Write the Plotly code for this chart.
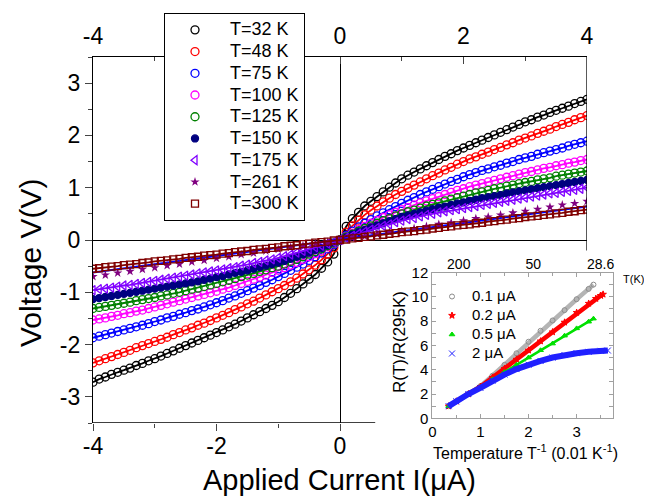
import plotly.graph_objects as go

W, H = 652, 496
# the page body adds an 8 px margin around the figure; layout positions
# below are given in window pixels and corrected for it
OFFSET = 8

# ---- main panel: I-V sweeps, current in uA ----
current_ua = [-4.0, -3.9, -3.8, -3.7, -3.6, -3.5, -3.4, -3.3, -3.2, -3.1,
              -3.0, -2.9, -2.8, -2.7, -2.6, -2.5, -2.4, -2.3, -2.2, -2.1,
              -2.0, -1.9, -1.8, -1.7, -1.6, -1.5, -1.4, -1.3, -1.2, -1.1,
              -1.0, -0.9, -0.8, -0.7, -0.6, -0.5, -0.4, -0.3, -0.2, -0.1,
              0.0, 0.1, 0.2, 0.3, 0.4, 0.5, 0.6, 0.7, 0.8, 0.9,
              1.0, 1.1, 1.2, 1.3, 1.4, 1.5, 1.6, 1.7, 1.8, 1.9,
              2.0, 2.1, 2.2, 2.3, 2.4, 2.5, 2.6, 2.7, 2.8, 2.9,
              3.0, 3.1, 3.2, 3.3, 3.4, 3.5, 3.6, 3.7, 3.8, 3.9, 4.0]

v_32k = [-2.72, -2.66, -2.62, -2.57, -2.53, -2.49, -2.45, -2.40, -2.36, -2.31,
         -2.27, -2.22, -2.17, -2.12, -2.07, -2.02, -1.97, -1.92, -1.87, -1.82,
         -1.77, -1.72, -1.66, -1.61, -1.55, -1.49, -1.43, -1.37, -1.31, -1.25,
         -1.18, -1.10, -1.02, -0.93, -0.84, -0.75, -0.66, -0.54, -0.42, -0.27,
         0.00, 0.26, 0.41, 0.53, 0.65, 0.74, 0.83, 0.92, 1.01, 1.09,
         1.17, 1.24, 1.30, 1.36, 1.42, 1.48, 1.54, 1.60, 1.65, 1.71,
         1.76, 1.81, 1.86, 1.91, 1.96, 2.01, 2.06, 2.11, 2.16, 2.21,
         2.26, 2.30, 2.35, 2.39, 2.44, 2.48, 2.52, 2.56, 2.61, 2.65, 2.69]
v_48k = [-2.35, -2.31, -2.27, -2.23, -2.19, -2.15, -2.11, -2.06, -2.02, -1.98,
         -1.94, -1.90, -1.86, -1.81, -1.77, -1.72, -1.68, -1.63, -1.59, -1.54,
         -1.49, -1.44, -1.39, -1.33, -1.28, -1.22, -1.17, -1.11, -1.05, -0.99,
         -0.93, -0.87, -0.80, -0.73, -0.65, -0.57, -0.48, -0.38, -0.27, -0.15,
         0.00, 0.15, 0.27, 0.38, 0.48, 0.57, 0.65, 0.73, 0.80, 0.87,
         0.93, 0.99, 1.05, 1.11, 1.17, 1.23, 1.28, 1.34, 1.39, 1.45,
         1.50, 1.55, 1.59, 1.64, 1.68, 1.73, 1.77, 1.82, 1.86, 1.91,
         1.95, 1.99, 2.04, 2.08, 2.12, 2.17, 2.21, 2.25, 2.30, 2.34, 2.38]
v_75k = [-1.87, -1.84, -1.81, -1.78, -1.75, -1.72, -1.69, -1.66, -1.63, -1.60,
         -1.56, -1.53, -1.49, -1.46, -1.42, -1.39, -1.35, -1.32, -1.28, -1.24,
         -1.20, -1.16, -1.11, -1.07, -1.02, -0.97, -0.92, -0.87, -0.81, -0.76,
         -0.70, -0.64, -0.58, -0.52, -0.46, -0.39, -0.32, -0.25, -0.17, -0.09,
         0.00, 0.09, 0.17, 0.25, 0.32, 0.39, 0.46, 0.52, 0.58, 0.64,
         0.70, 0.76, 0.81, 0.87, 0.92, 0.97, 1.02, 1.07, 1.12, 1.16,
         1.21, 1.25, 1.29, 1.33, 1.36, 1.40, 1.43, 1.47, 1.50, 1.54,
         1.57, 1.60, 1.64, 1.67, 1.70, 1.73, 1.76, 1.80, 1.83, 1.86, 1.89]
v_100k = [-1.53, -1.51, -1.49, -1.46, -1.44, -1.41, -1.39, -1.36, -1.34, -1.31,
          -1.28, -1.25, -1.22, -1.19, -1.16, -1.13, -1.10, -1.07, -1.04, -1.01,
          -0.98, -0.94, -0.91, -0.87, -0.83, -0.79, -0.75, -0.71, -0.67, -0.62,
          -0.58, -0.53, -0.48, -0.43, -0.37, -0.32, -0.26, -0.20, -0.13, -0.07,
          0.00, 0.07, 0.13, 0.20, 0.26, 0.32, 0.37, 0.43, 0.48, 0.53,
          0.58, 0.62, 0.67, 0.71, 0.75, 0.79, 0.83, 0.87, 0.91, 0.95,
          0.98, 1.02, 1.05, 1.08, 1.11, 1.14, 1.17, 1.20, 1.23, 1.26,
          1.29, 1.31, 1.34, 1.37, 1.39, 1.42, 1.44, 1.47, 1.49, 1.52, 1.54]
v_125k = [-1.31, -1.29, -1.27, -1.25, -1.23, -1.21, -1.19, -1.16, -1.14, -1.12,
          -1.10, -1.07, -1.05, -1.02, -1.00, -0.97, -0.94, -0.92, -0.89, -0.86,
          -0.83, -0.80, -0.77, -0.74, -0.70, -0.67, -0.64, -0.60, -0.57, -0.53,
          -0.50, -0.46, -0.41, -0.37, -0.32, -0.27, -0.22, -0.17, -0.11, -0.06,
          0.00, 0.06, 0.11, 0.17, 0.22, 0.27, 0.32, 0.37, 0.41, 0.46,
          0.50, 0.54, 0.57, 0.61, 0.65, 0.68, 0.71, 0.75, 0.78, 0.81,
          0.84, 0.87, 0.90, 0.92, 0.95, 0.98, 1.00, 1.03, 1.05, 1.08,
          1.10, 1.12, 1.15, 1.17, 1.19, 1.22, 1.24, 1.26, 1.28, 1.30, 1.32]
v_150k = [-1.13, -1.11, -1.09, -1.07, -1.05, -1.03, -1.01, -0.99, -0.97, -0.95,
          -0.93, -0.91, -0.89, -0.87, -0.85, -0.83, -0.81, -0.79, -0.76, -0.74,
          -0.71, -0.69, -0.66, -0.63, -0.61, -0.58, -0.55, -0.52, -0.49, -0.46,
          -0.43, -0.40, -0.36, -0.32, -0.28, -0.24, -0.19, -0.15, -0.10, -0.05,
          0.00, 0.05, 0.10, 0.15, 0.19, 0.24, 0.28, 0.32, 0.36, 0.40,
          0.44, 0.47, 0.50, 0.53, 0.56, 0.59, 0.62, 0.64, 0.67, 0.70,
          0.72, 0.75, 0.77, 0.80, 0.82, 0.84, 0.86, 0.89, 0.91, 0.93,
          0.95, 0.97, 0.99, 1.01, 1.03, 1.05, 1.07, 1.09, 1.11, 1.13, 1.15]
v_175k = [-0.96, -0.94, -0.93, -0.91, -0.89, -0.87, -0.86, -0.84, -0.82, -0.80,
          -0.78, -0.76, -0.74, -0.72, -0.70, -0.68, -0.66, -0.64, -0.62, -0.60,
          -0.58, -0.56, -0.54, -0.52, -0.49, -0.47, -0.44, -0.42, -0.39, -0.37,
          -0.34, -0.31, -0.28, -0.24, -0.21, -0.18, -0.14, -0.11, -0.07, -0.04,
          0.00, 0.04, 0.08, 0.12, 0.16, 0.20, 0.23, 0.27, 0.30, 0.34,
          0.37, 0.40, 0.42, 0.45, 0.48, 0.50, 0.53, 0.55, 0.57, 0.59,
          0.61, 0.63, 0.65, 0.67, 0.69, 0.71, 0.73, 0.75, 0.77, 0.79,
          0.81, 0.83, 0.85, 0.87, 0.89, 0.90, 0.92, 0.94, 0.96, 0.98, 1.00]
v_300k = [-0.55, -0.54, -0.52, -0.51, -0.50, -0.48, -0.47, -0.46, -0.44, -0.43,
          -0.41, -0.40, -0.39, -0.37, -0.36, -0.34, -0.33, -0.32, -0.30, -0.29,
          -0.28, -0.26, -0.25, -0.23, -0.22, -0.21, -0.19, -0.18, -0.17, -0.15,
          -0.14, -0.12, -0.11, -0.10, -0.08, -0.07, -0.05, -0.04, -0.03, -0.01,
          0.00, 0.01, 0.03, 0.04, 0.06, 0.07, 0.09, 0.10, 0.12, 0.13,
          0.15, 0.16, 0.17, 0.19, 0.20, 0.22, 0.23, 0.25, 0.26, 0.28,
          0.29, 0.30, 0.32, 0.33, 0.35, 0.36, 0.38, 0.39, 0.41, 0.42,
          0.44, 0.45, 0.46, 0.48, 0.49, 0.51, 0.52, 0.54, 0.55, 0.57, 0.58]

# T=261 K was sampled more coarsely
current_261 = [-4.0, -3.8, -3.6, -3.4, -3.2, -3.0, -2.8, -2.6, -2.4, -2.2,
               -2.0, -1.8, -1.6, -1.4, -1.2, -1.0, -0.8, -0.6, -0.4, -0.2,
               0.0, 0.2, 0.4, 0.6, 0.8, 1.0, 1.2, 1.4, 1.6, 1.8,
               2.0, 2.2, 2.4, 2.6, 2.8, 3.0, 3.2, 3.4, 3.6, 3.8, 4.0]
v_261k = [-0.70, -0.67, -0.63, -0.60, -0.56, -0.53, -0.49, -0.46, -0.42, -0.39,
          -0.35, -0.32, -0.28, -0.25, -0.21, -0.18, -0.14, -0.11, -0.07, -0.04,
          0.00, 0.04, 0.07, 0.11, 0.15, 0.18, 0.22, 0.26, 0.30, 0.33,
          0.37, 0.41, 0.44, 0.48, 0.52, 0.55, 0.59, 0.63, 0.67, 0.70, 0.74]
fit_261_i = [-4.0, 4.0]
fit_261_v = [-0.62, 0.64]

main_x_ticks = [-4, -2, 0]
main_x_labels = ['-4', '-2', '0']
main_top_ticks = [-4, -2, 0, 2, 4]
main_top_labels = ['-4', '-2', '0', '2', '4']
main_y_ticks = [-3, -2, -1, 0, 1, 2, 3]
main_y_labels = ['-3', '-2', '-1', '0', '1', '2', '3']

# ---- inset: R(T)/R(295K) vs 1/T (0.01 K^-1) ----
inv_t_01 = [0.34, 0.5, 0.75, 1.0, 1.25, 1.5, 1.75, 2.0, 2.25, 2.5, 2.75, 3.0, 3.25, 3.35]
ratio_01 = [1.0, 1.4, 2.0, 2.65, 3.5, 4.4, 5.35, 6.3, 7.2, 8.05, 8.9, 9.8, 10.65, 11.0]
inv_t_02 = [0.34, 0.5, 0.75, 1.0, 1.25, 1.5, 1.75, 2.0, 2.25, 2.5, 2.75, 3.0, 3.25, 3.4, 3.5, 3.55]
ratio_02 = [1.0, 1.4, 2.0, 2.6, 3.35, 4.1, 4.85, 5.6, 6.35, 7.1, 7.9, 8.7, 9.45, 9.85, 10.1, 10.2]
inv_t_05 = [0.34, 0.5, 0.75, 1.0, 1.25, 1.5, 1.75, 2.0, 2.25, 2.5, 2.75, 3.0, 3.25, 3.35]
ratio_05 = [1.0, 1.4, 2.0, 2.55, 3.2, 3.8, 4.4, 5.0, 5.6, 6.15, 6.8, 7.4, 7.95, 8.2]
inv_t_2 = [0.34, 0.5, 0.75, 1.0, 1.25, 1.5, 1.75, 2.0, 2.25, 2.5, 2.75, 3.0, 3.25, 3.5, 3.65]
ratio_2 = [1.0, 1.4, 2.0, 2.5, 3.1, 3.6, 4.05, 4.42, 4.72, 5.0, 5.2, 5.36, 5.47, 5.55, 5.58]

top_tick_pos = [0.55, 2.1, 3.5]
top_tick_text = ['200', '50', '28.6']

FONT = "Arial, Liberation Sans, sans-serif"


def px_x(p):
    return (p - OFFSET) / W


def px_y(p):
    return 1 - (p - OFFSET) / H


def big(txt, size, pad=""):
    # legend row height follows the legend font size; the text is drawn larger
    return f'<span style="font-size:{size}px">{pad}{txt}</span>'


fig = go.Figure()

# label, voltages, colour, symbol, size
series = [
    ("T=32 K", v_32k, "#000000", "circle-open", 8),
    ("T=48 K", v_48k, "#FF0000", "circle-open", 8),
    ("T=75 K", v_75k, "#0000FF", "circle-open", 8),
    ("T=100 K", v_100k, "#FF00FF", "circle-open", 8),
    ("T=125 K", v_125k, "#008000", "circle-open", 8),
    ("T=150 K", v_150k, "#000080", "circle", 7),
    ("T=175 K", v_175k, "#8000FF", "triangle-left-open", 8),
]
NB = "\u00a0"

for name, v, col, sym, sz in series:
    fig.add_trace(go.Scatter(x=current_ua, y=v, mode="lines", showlegend=False,
                             line=dict(color=col, width=1.8), hoverinfo="skip"))
    fig.add_trace(go.Scatter(x=current_ua, y=v, mode="markers", name=big(name, 18, NB),
                             marker=dict(symbol=sym, size=sz, color=col,
                                         line=dict(width=1.3, color=col))))

fig.add_trace(go.Scatter(x=fit_261_i, y=fit_261_v, mode="lines", showlegend=False,
                         line=dict(color="#0000FF", width=2), hoverinfo="skip"))
fig.add_trace(go.Scatter(x=current_261, y=v_261k, mode="markers", name=big("T=261 K", 18, NB),
                         marker=dict(symbol="star", size=7, color="#800080")))
fig.add_trace(go.Scatter(x=current_ua, y=v_300k, mode="lines", showlegend=False,
                         line=dict(color="#800000", width=1.8), hoverinfo="skip"))
fig.add_trace(go.Scatter(x=current_ua, y=v_300k, mode="markers", name=big("T=300 K", 18, NB),
                         marker=dict(symbol="square-open", size=7, color="#800000",
                                     line=dict(width=1.3, color="#800000"))))

# empty trace so the top axis is drawn
fig.add_trace(go.Scatter(x=[], y=[], xaxis="x2", yaxis="y", showlegend=False))

# inset: band line underneath, markers on top
inset = [
    ("0.1 μA", inv_t_01, ratio_01, "#B4B4B4", "#8C8C8C", "circle-open", 5, 4.5),
    ("0.2 μA", inv_t_02, ratio_02, "#FF0000", "#FF0000", "star", 5, 4.5),
    ("0.5 μA", inv_t_05, ratio_05, "#00E000", "#00E000", "triangle-up", 5, 2.5),
    ("2 μA", inv_t_2, ratio_2, "#2020FF", "#2020FF", "x-thin-open", 6, 6),
]
for name, xs, ys, lcol, mcol, sym, sz, lw in inset:
    fig.add_trace(go.Scatter(x=xs, y=ys, mode="lines", xaxis="x3", yaxis="y3",
                             showlegend=False, line=dict(color=lcol, width=lw),
                             hoverinfo="skip"))
    fig.add_trace(go.Scatter(x=xs, y=ys, mode="markers", name=big(name, 15),
                             xaxis="x3", yaxis="y3", legend="legend2",
                             marker=dict(symbol=sym, size=sz, color=mcol,
                                         line=dict(width=1, color=mcol))))
fig.add_trace(go.Scatter(x=[], y=[], xaxis="x4", yaxis="y3", showlegend=False))

main_x = [px_x(93), px_x(587)]
main_y = [px_y(423), px_y(57)]
ins_x = [px_x(432.3), px_x(612.7)]
ins_y = [px_y(418.3), px_y(272.5)]

fig.update_layout(
    width=W, height=H,
    margin=dict(l=0, r=0, t=0, b=0, autoexpand=False),
    paper_bgcolor="white", plot_bgcolor="white",
    font=dict(family=FONT, color="black"),
    xaxis=dict(domain=main_x, range=[-4, 4], anchor="y", automargin=False,
               tickvals=main_x_ticks, ticktext=main_x_labels,
               ticks="outside", ticklen=7, tickwidth=1.3,
               minor=dict(tickvals=[-3, -1], ticks="outside", ticklen=4, tickwidth=1.3),
               showline=False, showgrid=False, ticklabelstandoff=-5,
               zeroline=True, zerolinecolor="black", zerolinewidth=1.3,
               tickfont=dict(size=23)),
    xaxis2=dict(overlaying="x", side="top", anchor="y", range=[-4, 4], automargin=False,
                tickvals=main_top_ticks, ticktext=main_top_labels,
                ticks="inside", ticklen=7, tickwidth=1.3,
                minor=dict(tickvals=[-3, -1, 1, 3], ticks="inside", ticklen=4, tickwidth=1.3),
                showline=True, linecolor="black", linewidth=1.3, showgrid=False,
                zeroline=False, ticklabelstandoff=3, tickfont=dict(size=23)),
    yaxis=dict(domain=main_y, range=[-3.5, 3.5], anchor="x", automargin=False,
               tickvals=main_y_ticks, ticktext=main_y_labels,
               ticks="outside", ticklen=7, tickwidth=1.3,
               minor=dict(dtick=0.5, tick0=0, ticks="outside", ticklen=4, tickwidth=1.3),
               showline=True, linecolor="black", linewidth=1.3, showgrid=False,
               zeroline=True, zerolinecolor="black", zerolinewidth=1.3,
               tickfont=dict(size=23)),
    xaxis3=dict(domain=ins_x, range=[0, 3.75], anchor="y3", automargin=False,
                tickvals=[0, 1, 2, 3], ticks="inside", ticklen=4, tickcolor="#A0A0A0",
                minor=dict(tickvals=[0.5, 1.5, 2.5, 3.5], ticks="inside", ticklen=3,
                           tickcolor="#A0A0A0"),
                showline=True, linecolor="#A0A0A0", linewidth=1, mirror="allticks",
                showgrid=False, zeroline=False, tickfont=dict(size=15)),
    xaxis4=dict(overlaying="x3", side="top", anchor="y3", range=[0, 3.75], automargin=False,
                tickvals=top_tick_pos, ticktext=top_tick_text, ticks="",
                showline=False, showgrid=False, zeroline=False,
                tickfont=dict(size=14)),
    yaxis3=dict(domain=ins_y, range=[0, 12], anchor="x3", automargin=False,
                tickvals=[0, 2, 4, 6, 8, 10, 12], ticks="inside", ticklen=4, tickcolor="#A0A0A0",
                minor=dict(dtick=1, ticks="inside", ticklen=3, tickcolor="#A0A0A0"),
                showline=True, linecolor="#A0A0A0", linewidth=1, mirror="allticks",
                showgrid=False, zeroline=False, tickfont=dict(size=15)),
    legend=dict(x=px_x(164), y=px_y(13), xanchor="left", yanchor="top",
                bgcolor="white", bordercolor="black", borderwidth=1,
                font=dict(size=14.4), tracegroupgap=0, itemwidth=50),
    legend2=dict(x=px_x(432), y=px_y(282), xanchor="left", yanchor="top",
                 bgcolor="rgba(0,0,0,0)", borderwidth=0,
                 font=dict(size=11), tracegroupgap=0),
    showlegend=True,
)

# frame pieces not covered by the inset
fig.add_shape(type="line", xref="x", yref="y", x0=4, x1=4, y0=3.5, y1=-0.2,
              line=dict(color="black", width=1.3))
fig.add_shape(type="line", xref="x", yref="y", x0=-4, x1=0.57, y0=-3.5, y1=-3.5,
              line=dict(color="black", width=1.3))

annots = [
    dict(text="Voltage V(V)", x=px_x(30), y=px_y(263), textangle=-90, font=dict(size=30)),
    dict(text="Applied Current I(μA)", x=px_x(340), y=px_y(480), font=dict(size=29)),
    dict(text="R(T)/R(295K)", x=px_x(399), y=px_y(342), textangle=-90, font=dict(size=17)),
    dict(text="Temperature T<sup>-1</sup> (0.01 K<sup>-1</sup>)", x=px_x(525), y=px_y(452),
         font=dict(size=16)),
    dict(text="T(K)", x=px_x(633), y=px_y(279), font=dict(size=11)),
]
for a in annots:
    fig.add_annotation(xref="paper", yref="paper", showarrow=False,
                       xanchor="center", yanchor="middle", **a)

fig.write_html("out.html")
